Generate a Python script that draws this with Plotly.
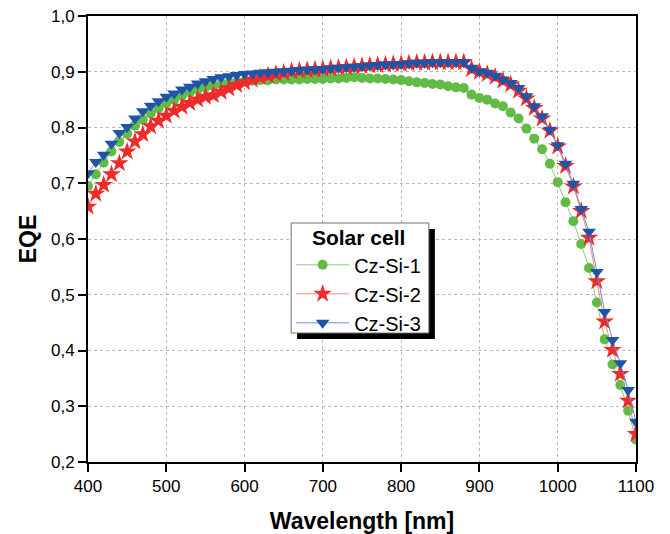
import plotly.graph_objects as go

wavelength = list(range(400, 1101, 10))

cz_si_1 = [0.695, 0.716, 0.737, 0.757, 0.774, 0.789, 0.803, 0.814, 0.825, 0.834,
           0.843, 0.850, 0.857, 0.863, 0.868, 0.872, 0.875, 0.878, 0.880, 0.882,
           0.883, 0.884, 0.885, 0.885, 0.886, 0.886, 0.886, 0.886, 0.887, 0.887,
           0.887, 0.888, 0.888, 0.889, 0.890, 0.889, 0.888, 0.888, 0.887, 0.886,
           0.885, 0.883, 0.881, 0.880, 0.878, 0.877, 0.874, 0.872, 0.871, 0.859,
           0.853, 0.850, 0.843, 0.838, 0.827, 0.816, 0.798, 0.780, 0.761, 0.735,
           0.702, 0.666, 0.632, 0.591, 0.548, 0.486, 0.420, 0.375, 0.338, 0.292,
           0.240]

cz_si_2 = [0.658, 0.681, 0.697, 0.716, 0.736, 0.757, 0.775, 0.788, 0.802, 0.812,
           0.821, 0.830, 0.837, 0.844, 0.850, 0.855, 0.858, 0.864, 0.870, 0.876,
           0.881, 0.886, 0.890, 0.893, 0.896, 0.898, 0.901, 0.902, 0.903, 0.904,
           0.905, 0.906, 0.907, 0.908, 0.909, 0.910, 0.911, 0.912, 0.913, 0.914,
           0.914, 0.915, 0.916, 0.916, 0.917, 0.917, 0.917, 0.917, 0.917, 0.905,
           0.900, 0.896, 0.891, 0.884, 0.877, 0.866, 0.852, 0.835, 0.816, 0.794,
           0.766, 0.731, 0.694, 0.650, 0.602, 0.524, 0.452, 0.401, 0.358, 0.310,
           0.250]

cz_si_3 = [0.718, 0.738, 0.751, 0.771, 0.790, 0.801, 0.816, 0.829, 0.839, 0.847,
           0.855, 0.861, 0.868, 0.873, 0.879, 0.883, 0.887, 0.890, 0.892, 0.894,
           0.896, 0.897, 0.898, 0.899, 0.900, 0.901, 0.902, 0.903, 0.904, 0.904,
           0.905, 0.906, 0.907, 0.908, 0.909, 0.910, 0.911, 0.912, 0.913, 0.913,
           0.914, 0.915, 0.916, 0.916, 0.917, 0.917, 0.917, 0.917, 0.917, 0.907,
           0.901, 0.898, 0.893, 0.886, 0.880, 0.871, 0.856, 0.838, 0.820, 0.796,
           0.768, 0.735, 0.699, 0.654, 0.613, 0.541, 0.469, 0.419, 0.377, 0.329,
           0.272]

x_ticks = [400, 500, 600, 700, 800, 900, 1000, 1100]
y_ticks = [0.2, 0.3, 0.4, 0.5, 0.6, 0.7, 0.8, 0.9, 1.0]

GREEN = "#62bb47"
RED = "#ee2a2a"
BLUE = "#1f55a6"

FONT = "Liberation Sans, Arial, sans-serif"

fig = go.Figure()
fig.add_trace(go.Scatter(
    x=wavelength, y=cz_si_1, name="Cz-Si-1", mode="lines+markers",
    line=dict(color="#86cf72", width=1),
    marker=dict(symbol="circle", size=10, color=GREEN, line=dict(width=0)),
))
fig.add_trace(go.Scatter(
    x=wavelength, y=cz_si_2, name="Cz-Si-2", mode="lines+markers",
    line=dict(color="#f08a8a", width=1),
    marker=dict(symbol="star", size=14, color=RED, line=dict(width=0)),
))
fig.add_trace(go.Scatter(
    x=wavelength, y=cz_si_3, name="Cz-Si-3", mode="lines+markers",
    line=dict(color="#6f8fcf", width=1),
    marker=dict(symbol="triangle-down", size=12, color=BLUE, line=dict(width=0)),
))

axis_common = dict(
    showline=True, linecolor="black", linewidth=2, mirror=True,
    ticks="outside", ticklen=8, tickwidth=1.5, tickcolor="black",
    showgrid=True, gridcolor="#b8b8b8", gridwidth=1, griddash="dot",
    zeroline=False, automargin=False,
    tickfont=dict(family=FONT, size=17, color="black"),
)

fig.update_xaxes(
    range=[400, 1100], tickvals=x_ticks,
    title=dict(text="<b>Wavelength [nm]</b>", font=dict(family=FONT, size=23, color="black"), standoff=18),
    **axis_common,
)
fig.update_yaxes(
    range=[0.2, 1.0], tickvals=y_ticks, tickformat=".1f",
    title=dict(text="<b>EQE</b>", font=dict(family=FONT, size=23, color="black"), standoff=8),
    **axis_common,
)

W, H = 670, 534
L, T, PW, PH = 87.5, 16, 549, 446


def px_x(v):
    return (v - L) / PW


def px_y(v):
    return (PH + T - v) / PH


# legend frame: drop shadow + white box with grey border (page pixels)
fig.add_shape(type="rect", xref="paper", yref="paper",
              x0=px_x(297), x1=px_x(435), y0=px_y(339), y1=px_y(229),
              fillcolor="black", line=dict(width=0), layer="above")
fig.add_shape(type="rect", xref="paper", yref="paper",
              x0=px_x(291), x1=px_x(429), y0=px_y(333), y1=px_y(223),
              fillcolor="white", line=dict(color="#707070", width=1), layer="above")

fig.update_layout(
    width=W, height=H,
    margin=dict(l=L, r=W - L - PW, t=T, b=H - T - PH),
    paper_bgcolor="white", plot_bgcolor="white",
    separators=",.",
    font=dict(family=FONT, color="black"),
    showlegend=True,
    legend=dict(
        x=px_x(291), y=px_y(218), xanchor="left", yanchor="top",
        bgcolor="rgba(0,0,0,0)", borderwidth=0,
        font=dict(family=FONT, size=20, color="black"),
        title=dict(text="<b>Solar cell</b>", side="top center",
                   font=dict(family=FONT, size=21, color="black")),
        itemwidth=53, tracegroupgap=0,
    ),
)

fig.write_html("out.html", config={"displayModeBar": False},
               post_script="document.body.style.margin='0';")
